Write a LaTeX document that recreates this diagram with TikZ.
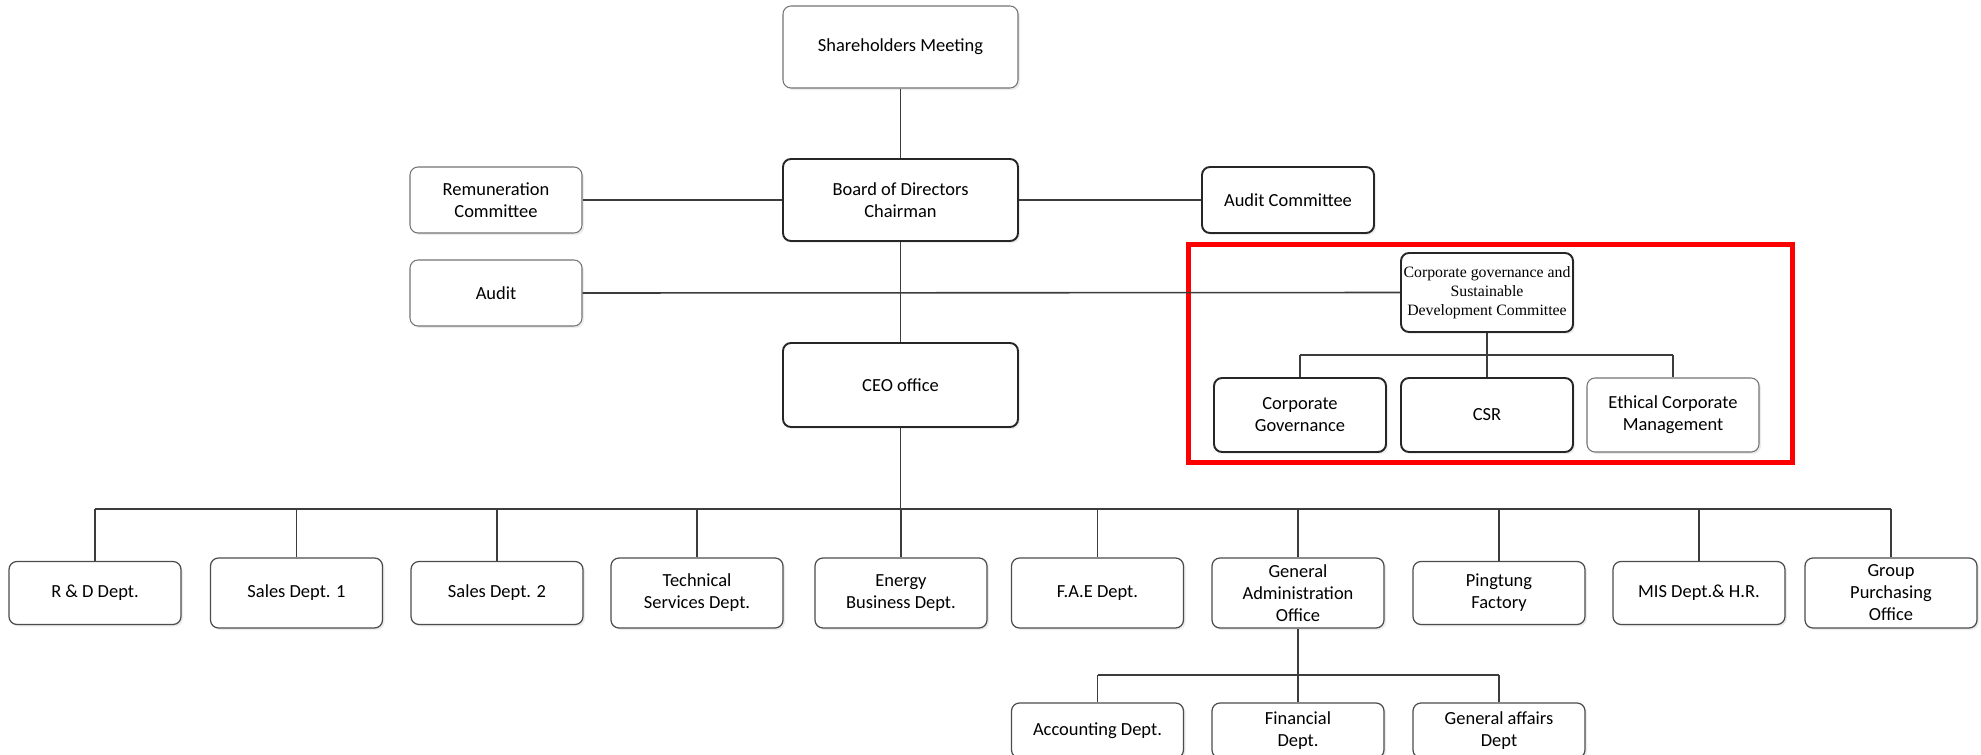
\documentclass[tikz,border=0pt]{standalone}
\usepackage{fontspec}
\setmainfont{Carlito}
\newfontfamily\cgserif{Liberation Serif}
\usetikzlibrary{shadows}
\definecolor{orgL}{RGB}{60,60,60}
\definecolor{orgR}{RGB}{255,0,0}
\tikzset{
  unit/.style={draw=black!85,line width=1.1pt,rounded corners=1.6mm,fill=white,align=center,inner sep=0pt,
    minimum width=34.4mm,font=\fontsize{10.5}{12.5}\selectfont,
    drop shadow={shadow xshift=0.4mm,shadow yshift=-0.4mm,fill=black!15}},
  lightunit/.style={unit,draw=black!55,line width=0.6pt},
  deptunit/.style={unit,draw=black!70,line width=0.7pt},
  wideunit/.style={minimum width=47mm,minimum height=16.4mm},
  link/.style={orgL,line width=0.9pt},
}

\begin{document}
\begin{tikzpicture}[x=0.2mm,y=-0.2mm]
\clip (0,0) rectangle (1981,754);
% top of the chart
\node[lightunit,wideunit] (share) at (900.5,47) {Shareholders Meeting};
\node[unit,wideunit] (board) at (900.5,200) {Board of Directors\\Chairman};
\node[lightunit,minimum height=13.2mm] (remun) at (496,200) {Remuneration\\Committee};
\node[lightunit,minimum height=13.2mm] (audit) at (496,293) {Audit};
\node[unit,minimum height=13.2mm] (auditc) at (1288,200) {Audit Committee};
\node[unit,wideunit,minimum height=16.8mm] (ceo) at (900.5,385) {CEO office};
% committee group in the red frame
\draw[orgR,line width=2.85pt] (1188,244.5) rectangle (1792,462.5);
\node[unit,minimum height=15.8mm,font=\cgserif\fontsize{9}{10.8}\selectfont] (cgsd) at (1487,292.5) {Corporate governance and\\Sustainable\\Development Committee};
\node[unit,minimum height=14.8mm] (cg) at (1300,415) {Corporate\\Governance};
\node[unit,minimum height=14.8mm] (csr) at (1487,415) {CSR};
\node[lightunit,minimum height=14.8mm] (eth) at (1673,415) {Ethical Corporate\\Management};
% departments
\foreach \n/\x/\h/\t in {rd/95/12.6/{R \& D Dept.},s1/296.5/14/{Sales Dept. 1},s2/497/12.6/{Sales Dept. 2},
  tech/697/14/{Technical\\Services Dept.},energy/901/14/{Energy\\Business Dept.},fae/1097.5/14/{F.A.E Dept.},
  ga/1298/14/{General\\Administration\\Office},ping/1499/12.6/{Pingtung\\Factory},mis/1699/12.6/{MIS Dept.\& H.R.},
  grp/1891/14/{Group\\Purchasing\\Office}}
  \node[deptunit,minimum height=\h mm] (\n) at (\x,593) {\t};
\foreach \n/\x/\t in {acc/1097.5/{Accounting Dept.},fin/1298/{Financial\\Dept.},gaff/1499/{General affairs\\Dept}}
  \node[deptunit,minimum height=11mm] (\n) at (\x,730.5) {\t};
% connectors
\coordinate (bus) at (0,509);
\coordinate (cgbus) at (0,355);
\coordinate (gabus) at (0,675);
\draw[link] (share) -- (board);
\draw[link] (remun) -- (board);
\draw[link] (board) -- (auditc);
\draw[link] (board) -- (ceo);
\draw[link] (audit.east) -- (cgsd.west);
\draw[link] (cgsd.south) -- (cgsd.south |- cgbus);
\draw[link] (cg.north |- cgbus) -- (eth.north |- cgbus);
\foreach \n in {cg,csr,eth} \draw[link] (\n.north |- cgbus) -- (\n.north);
\draw[link] (ceo.south) -- (ceo.south |- bus);
\draw[link] (rd.north |- bus) -- (grp.north |- bus);
\foreach \n in {rd,s1,s2,tech,energy,fae,ga,ping,mis,grp} \draw[link] (\n.north |- bus) -- (\n.north);
\draw[link] (ga.south) -- (ga.south |- gabus);
\draw[link] (acc.north |- gabus) -- (gaff.north |- gabus);
\foreach \n in {acc,fin,gaff} \draw[link] (\n.north |- gabus) -- (\n.north);
\end{tikzpicture}
\end{document}
